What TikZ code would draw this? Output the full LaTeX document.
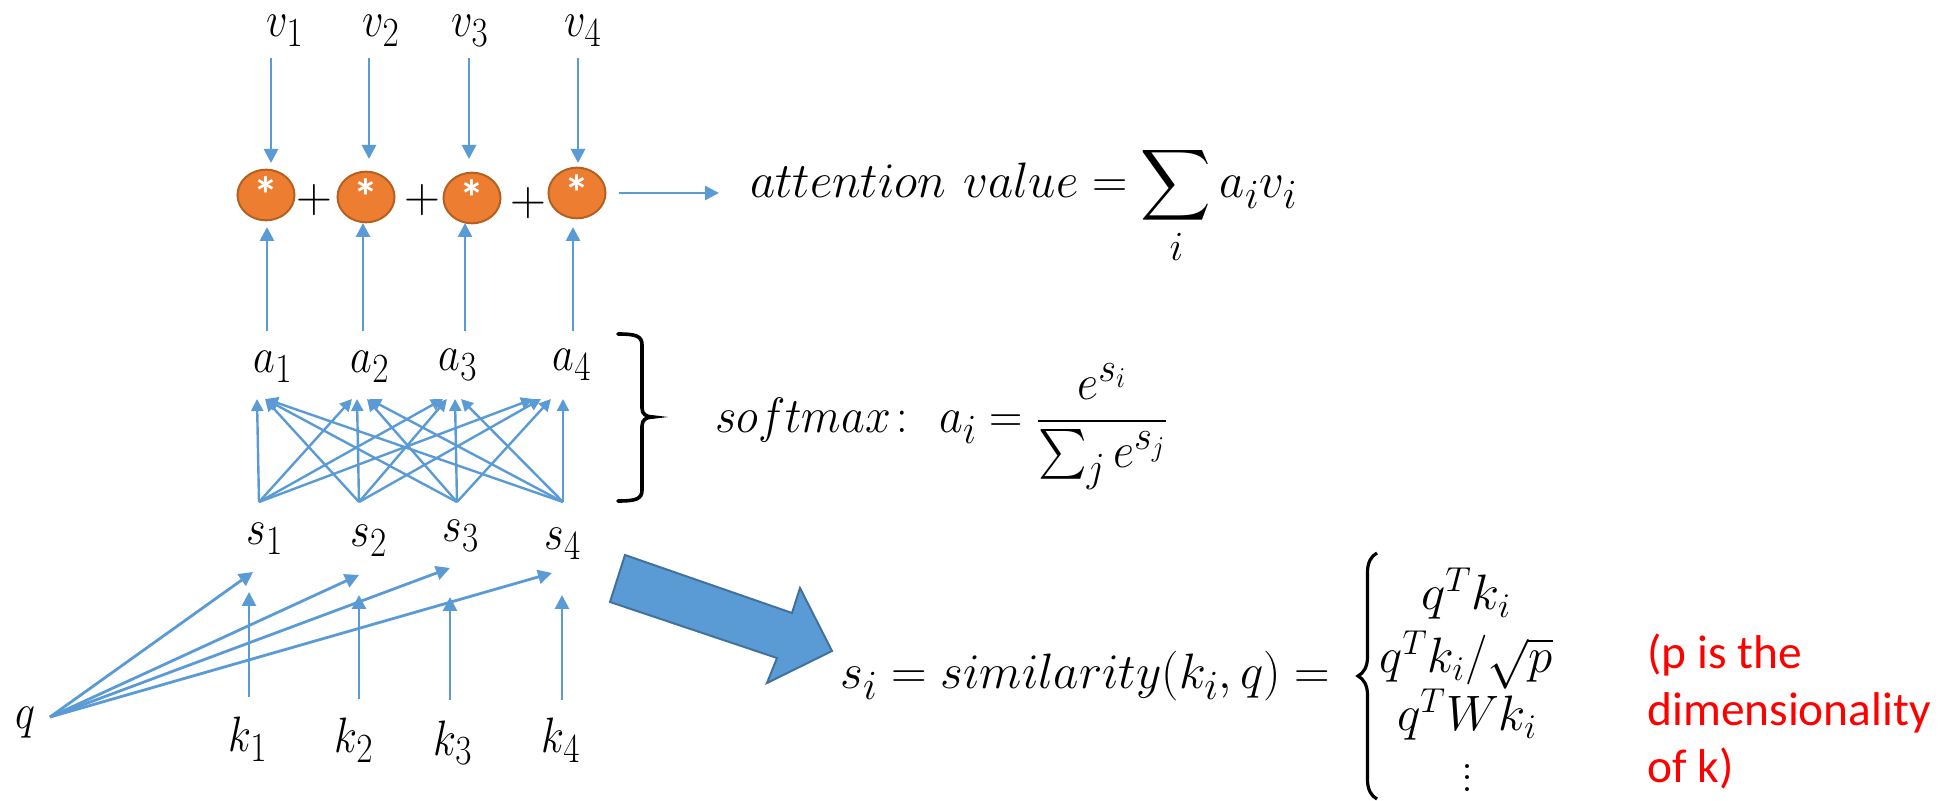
\documentclass[tikz,border=0pt]{standalone}
\usepackage{amsmath}
\usepackage{graphicx}
\usepackage{fontspec}
\newfontfamily\calibri{Carlito}
\usetikzlibrary{arrows.meta,shapes.geometric,decorations.pathreplacing}
\definecolor{lblue}{HTML}{5B9BD5}
\definecolor{dblue}{HTML}{41719C}
\definecolor{orng}{HTML}{ED7D31}
\definecolor{orngdk}{HTML}{B5601F}
\newcommand\lab[1]{\scalebox{0.85}[1]{$#1$}}
\newcommand\rowm[2]{\fontsize{25}{30}\selectfont\resizebox{#1}{\height}{$#2$}}
\begin{document}
\begin{tikzpicture}[x=0.5pt,y=-0.5pt,font=\fontsize{29}{35}\selectfont,
  arr/.style={draw=lblue, line width=1.4pt, -{Triangle[length=7pt,width=7pt]}},
  sarr/.style={draw=lblue, line width=1.2pt, -{Triangle[length=6pt,width=6pt]}},
  lbl/.style={inner sep=0pt, anchor=base},
  circ/.style={ellipse, fill=orng, draw=orngdk, line width=1pt, minimum width=28.5pt,
    minimum height=25pt, inner sep=0pt, text=white, font=\calibri\bfseries\fontsize{25}{25}\selectfont},
  plus/.style={inner sep=0pt},
  formula/.style={inner sep=0pt, anchor=base west}]
\useasboundingbox (0,0) rectangle (1939,801);

% v labels
\node[lbl] (v1) at (285,37) {\lab{v_1}};
\node[lbl] (v2) at (381,37) {\lab{v_2}};
\node[lbl] (v3) at (470,37) {\lab{v_3}};
\node[lbl] (v4) at (583,37) {\lab{v_4}};

% circles
\node[circ] (c1) at (266,195) {*};
\node[circ] (c2) at (366,197) {*};
\node[circ] (c3) at (472,198) {*};
\node[circ] (c4) at (577,193) {*};
\node[plus] (p1) at (314,200) {$+$};
\node[plus] (p2) at (422,200) {$+$};
\node[plus] (p3) at (528,203) {$+$};

% v -> circles
\coordinate (vt1) at (271,58);  \coordinate (vh1) at (271,163);
\coordinate (vt2) at (369,58);  \coordinate (vh2) at (369,159);
\coordinate (vt3) at (469,58);  \coordinate (vh3) at (469,159);
\coordinate (vt4) at (578,58);  \coordinate (vh4) at (578,163);
\foreach \i in {1,2,3,4} \draw[arr] (vt\i) -- (vh\i);

% a labels
\node[lbl] (a1) at (273,373) {\lab{a_1}};
\node[lbl] (a2) at (370,373) {\lab{a_2}};
\node[lbl] (a3) at (458,371) {\lab{a_3}};
\node[lbl] (a4) at (572,371) {\lab{a_4}};

% a -> circles
\coordinate (at1) at (267,331);  \coordinate (ah1) at (267,227);
\coordinate (at2) at (363,331);  \coordinate (ah2) at (363,223);
\coordinate (at3) at (465,331);  \coordinate (ah3) at (465,223);
\coordinate (at4) at (573,331);  \coordinate (ah4) at (573,227);
\foreach \i in {1,2,3,4} \draw[arr] (at\i) -- (ah\i);

% s labels
\node[lbl] (s1) at (265,545) {\lab{s_1}};
\node[lbl] (s2) at (369,547) {\lab{s_2}};
\node[lbl] (s3) at (461,542) {\lab{s_3}};
\node[lbl] (s4) at (563,550) {\lab{s_4}};

% s -> a (all pairs)
\coordinate (st1) at (259,502);
\coordinate (st2) at (359,502);
\coordinate (st3) at (457,502);
\coordinate (st4) at (563,502);
\coordinate (ab1) at (257,399);
\coordinate (ab2) at (357,399);
\coordinate (ab3) at (455,399);
\coordinate (ab4) at (563,399);
\foreach \i/\j/\d in {1/1/0,2/1/8,3/1/8,4/1/9,
                      1/2/-5,2/2/0,3/2/10,4/2/12,
                      1/3/-12,2/3/-8,3/3/0,4/3/6,
                      1/4/-30,2/4/-22,3/4/-12,4/4/0}
  \draw[sarr] (st\i) -- ([xshift=\d*0.5pt]ab\j);

% softmax brace
\draw[line width=1.8pt, line cap=round] (618,334) .. controls (636,334) and (642,336) .. (642,345)
  -- (642,408) .. controls (642,414) and (646,417) .. (653,417)
  .. controls (646,417) and (642,420) .. (642,426) -- (642,490)
  .. controls (642,499) and (636,501) .. (618,501);

% k and q labels
\node[lbl] (k1) at (248,752) {\lab{k_1}};
\node[lbl] (k2) at (354,753) {\lab{k_2}};
\node[lbl] (k3) at (453,755) {\lab{k_3}};
\node[lbl] (k4) at (561,753) {\lab{k_4}};
\node[lbl] (q) at (25,728) {\lab{q}};

% k -> s
\coordinate (kt1) at (249,697);  \coordinate (kh1) at (249,592);
\coordinate (kt2) at (359,699);  \coordinate (kh2) at (359,595);
\coordinate (kt3) at (450,700);  \coordinate (kh3) at (450,597);
\coordinate (kt4) at (562,700);  \coordinate (kh4) at (562,595);
\foreach \i in {1,2,3,4} \draw[arr] (kt\i) -- (kh\i);

% q -> s
\coordinate (qt) at (50,717);
\coordinate (qh1) at (253,572);
\coordinate (qh2) at (359,575);
\coordinate (qh3) at (450,568);
\coordinate (qh4) at (552,573);
\foreach \i in {1,2,3,4} \draw[arr] (qt) -- (qh\i);

% attention value
\node[formula] (att) at (750,198)
  {\resizebox{273.5pt}{\height}{$\displaystyle attention\ value = \sum_i a_i v_i$}};
\coordinate (atip) at (719,193);
\draw[arr] ([xshift=6pt]c4.east) -- (atip);

% softmax formula
\node[formula] (soft) at (715,433)
  {\resizebox{226.5pt}{\height}{$\displaystyle softmax\colon\ a_i = \frac{e^{s_i}}{\sum_j e^{s_j}}$}};

% big block arrow
\draw[fill=lblue, draw=dblue, line width=1pt, line join=miter]
  (625,555) -- (792,613) -- (800,588) -- (832,651) -- (767,683) -- (777,658) -- (610,602) -- cycle;

% similarity formula
\node[formula] (sim) at (840,689)
  {\resizebox{245pt}{\height}{$s_i = similarity(k_i,q) =$}};
\draw[line width=1.6pt, decorate, decoration={brace, amplitude=9.5pt}] (1377,799) -- (1377,553);
\node[lbl] (r1) at (1466,610) {\rowm{45pt}{q^Tk_i}};
\node[lbl] (r2) at (1466,673) {\rowm{86.5pt}{q^Tk_i/\sqrt{p}}};
\node[lbl] (r3) at (1467,731) {\rowm{70pt}{q^TWk_i}};
\node[inner sep=0pt] (r4) at (1467,778)
  {\fontsize{24}{24}\selectfont\vbox{\baselineskip=5.75pt\lineskiplimit=0pt\hbox{.}\hbox{.}\hbox{.}}};

% red note
\node[anchor=north west, align=left, inner sep=0pt, text=red,
  font=\calibri\fontsize{23.7}{28.5}\selectfont] (note) at (1647,633)
  {(p is the\\dimensionality\\of k)};
\end{tikzpicture}
\end{document}
